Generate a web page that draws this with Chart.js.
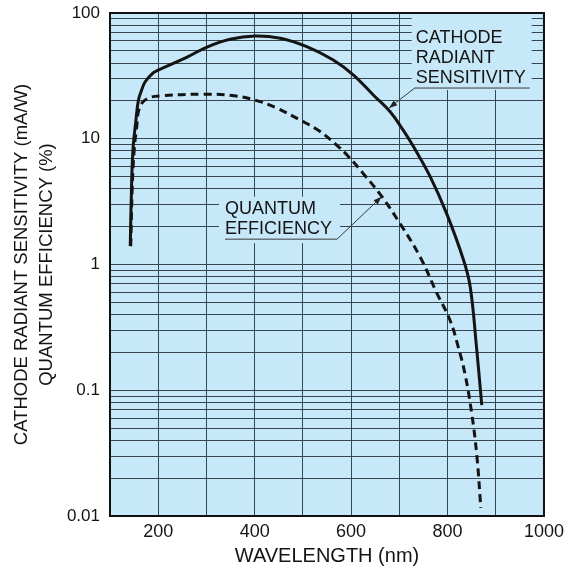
<!DOCTYPE html>
<html>
<head>
<meta charset="utf-8">
<script src="https://cdn.jsdelivr.net/npm/chart.js@4/dist/chart.umd.min.js"></script>
<style>
  body { margin: 0; background: #fff; }
  #wrap { width: 569px; height: 573px; }
</style>
</head>
<body>
<div id="wrap"><canvas id="spectral-chart" width="569" height="573"></canvas></div>
<script>
// Cathode radiant sensitivity (mA/W)
const sensWavelength = [142, 145, 148, 153, 159, 166, 173, 190, 200, 259, 300, 349, 401, 453, 508, 563, 605, 646, 681, 708, 729, 764, 798, 833, 847, 860, 871];
const sensValues = [1.4, 4.7, 8.6, 13.2, 20.3, 24.6, 28.4, 33.5, 35.2, 44.4, 53.4, 61.8, 65.6, 62.9, 54, 42.3, 32.1, 22.3, 16.4, 11.7, 8.7, 5.0, 2.55, 1.09, 0.665, 0.222, 0.076];

// Quantum efficiency (%)
const qeWavelength = [143, 146, 150, 155, 162, 179, 210, 294, 349, 401, 446, 494, 536, 570, 592, 625, 664, 701, 743, 778, 805, 822, 836, 850, 861, 869];
const qeValues = [1.4, 4, 8, 12, 18, 21, 22, 22.6, 22.2, 20.3, 17.5, 14.1, 11.4, 8.9, 7.4, 5.3, 3.46, 2.13, 1.15, 0.59, 0.362, 0.222, 0.136, 0.066, 0.0296, 0.0116];

// Axes
const xMin = 100, xMax = 1000, xStep = 100;
const xTickLabels = [200, 400, 600, 800, 1000];
const yDecades = [0.01, 0.1, 1, 10, 100];
const yTickLabels = ['0.01', '0.1', '1', '10', '100'];
const yTitle = ['CATHODE RADIANT SENSITIVITY (mA/W)', 'QUANTUM EFFICIENCY (%)'];
const xTitle = 'WAVELENGTH (nm)';

// minor log grid: 1..9 x each decade
const yGridValues = [];
yDecades.forEach(function(d, i) {
    const last = i === yDecades.length - 1;
    for (let m = 1; m <= (last ? 1 : 9); m++) {
        yGridValues.push(Number((m * d).toPrecision(6)));
    }
});

function toPoints(xs, ys) {
    return xs.map(function(x, i) { return { x: x, y: ys[i] }; });
}

const plotBg = '#c6e8f8';
const gridColor = '#36454e';
const inkColor = '#141414';
const fontFamily = '"Liberation Sans", Arial, sans-serif';
const labelFont = '18px ' + fontFamily;

// Curve call-outs: text anchored in data units, arrow tip on the curve
const curveLabels = [
    {
        lines: ['CATHODE', 'RADIANT', 'SENSITIVITY'],
        at: [734, 63.8],
        tip: [679, 17.6],
        underline: [-1, 114],
        leaderFrom: 'left',
        box: { left: -4, right: 116, top: null, bottom: 2 }
    },
    {
        lines: ['QUANTUM', 'EFFICIENCY'],
        at: [338.5, 2.78],
        tip: [663, 3.45],
        underline: [0, 112],
        leaderFrom: 'right',
        box: { left: -6, right: 115, top: -12, bottom: 4 }
    }
];

const calloutPlugin = {
    id: 'callouts',
    beforeDraw(chart) {
        const a = chart.chartArea;
        const ctx = chart.ctx;
        ctx.save();
        ctx.fillStyle = plotBg;
        ctx.fillRect(a.left, a.top, a.right - a.left, a.bottom - a.top);
        ctx.restore();
    },
    beforeDatasetsDraw(chart) {
        const ctx = chart.ctx;
        const xs = chart.scales.x, ys = chart.scales.y;
        const a = chart.chartArea;
        ctx.save();
        curveLabels.forEach(function(lab) {
            const tx = xs.getPixelForValue(lab.at[0]);
            const ty = ys.getPixelForValue(lab.at[1]);
            const lineGap = 20;
            const ulY = ty + (lab.lines.length - 1) * lineGap + 10.5;

            // box hides the grid behind the text
            const top = lab.box.top === null ? a.top + 1 : ty + lab.box.top;
            ctx.fillStyle = plotBg;
            ctx.fillRect(tx + lab.box.left, top, lab.box.right - lab.box.left, ulY + lab.box.bottom - top);

            ctx.font = labelFont;
            ctx.fillStyle = inkColor;
            ctx.textBaseline = 'middle';
            ctx.textAlign = 'left';
            lab.lines.forEach(function(t, i) {
                ctx.fillText(t, tx, ty + i * lineGap);
            });

            // underline + leader + arrow
            const x0 = tx + lab.underline[0], x1 = tx + lab.underline[1];
            const sx = lab.leaderFrom === 'left' ? x0 : x1;
            const px = xs.getPixelForValue(lab.tip[0]);
            const py = ys.getPixelForValue(lab.tip[1]);
            ctx.strokeStyle = '#3a3a3a';
            ctx.lineWidth = 1;
            ctx.beginPath();
            ctx.moveTo(x0, ulY);
            ctx.lineTo(x1, ulY);
            ctx.moveTo(sx, ulY);
            ctx.lineTo(px, py);
            ctx.stroke();

            const ang = Math.atan2(py - ulY, px - sx);
            const len = 8, half = 3;
            ctx.fillStyle = '#222';
            ctx.beginPath();
            ctx.moveTo(px, py);
            ctx.lineTo(px - len * Math.cos(ang) + half * Math.sin(ang), py - len * Math.sin(ang) - half * Math.cos(ang));
            ctx.lineTo(px - len * Math.cos(ang) - half * Math.sin(ang), py - len * Math.sin(ang) + half * Math.cos(ang));
            ctx.closePath();
            ctx.fill();
        });
        ctx.restore();
    },
    afterDatasetsDraw(chart) {
        const a = chart.chartArea;
        const ctx = chart.ctx;
        ctx.save();
        ctx.strokeStyle = '#111';
        ctx.lineWidth = 2;
        ctx.strokeRect(a.left, a.top, a.right - a.left, a.bottom - a.top);
        ctx.restore();
    }
};

const ctx = document.getElementById('spectral-chart');

new Chart(ctx, {
    type: 'line',
    data: {
        datasets: [
            {
                label: 'Cathode radiant sensitivity',
                data: toPoints(sensWavelength, sensValues),
                borderColor: inkColor,
                borderWidth: 3,
                pointRadius: 0,
                tension: 0.4,
                fill: false
            },
            {
                label: 'Quantum efficiency',
                data: toPoints(qeWavelength, qeValues),
                borderColor: inkColor,
                borderWidth: 3,
                borderDash: [8, 5],
                pointRadius: 0,
                tension: 0.4,
                fill: false
            }
        ]
    },
    options: {
        responsive: false,
        animation: false,
        layout: {
            padding: { top: 13, right: 25, left: 0, bottom: 0 }
        },
        plugins: {
            legend: { display: false },
            tooltip: { enabled: false }
        },
        scales: {
            x: {
                type: 'linear',
                min: xMin,
                max: xMax,
                border: { display: false },
                grid: { color: gridColor, lineWidth: 1, drawTicks: false },
                ticks: {
                    stepSize: xStep,
                    autoSkip: false,
                    maxRotation: 0,
                    padding: 5,
                    color: inkColor,
                    font: { family: fontFamily, size: 18 },
                    callback: function(value) {
                        return xTickLabels.indexOf(value) >= 0 ? String(value) : '';
                    }
                },
                title: {
                    display: true,
                    text: xTitle,
                    color: inkColor,
                    font: { family: fontFamily, size: 20 },
                    padding: { top: 0, bottom: 5 }
                },
                afterFit: function(scale) {
                    scale.height = 57;
                }
            },
            y: {
                type: 'logarithmic',
                min: 0.01,
                max: 100,
                border: { display: false },
                // tick marks kept invisible; their length sets the label gap
                grid: { color: gridColor, lineWidth: 1, drawTicks: true, tickLength: 8, tickColor: 'rgba(0,0,0,0)' },
                afterBuildTicks: function(axis) {
                    axis.ticks = yGridValues.map(function(v) { return { value: v }; });
                },
                ticks: {
                    autoSkip: false,
                    padding: 2,
                    color: inkColor,
                    font: { family: fontFamily, size: 17 },
                    callback: function(value) {
                        const i = yDecades.indexOf(value);
                        return i >= 0 ? yTickLabels[i] : '';
                    }
                },
                title: {
                    display: true,
                    text: yTitle,
                    color: inkColor,
                    font: { family: fontFamily, size: 18.5, lineHeight: 25 / 18.5 },
                    padding: { top: 9, bottom: 0 }
                },
                afterFit: function(scale) {
                    scale.width = 110;
                }
            }
        }
    },
    plugins: [calloutPlugin]
});
</script>
</body>
</html>
